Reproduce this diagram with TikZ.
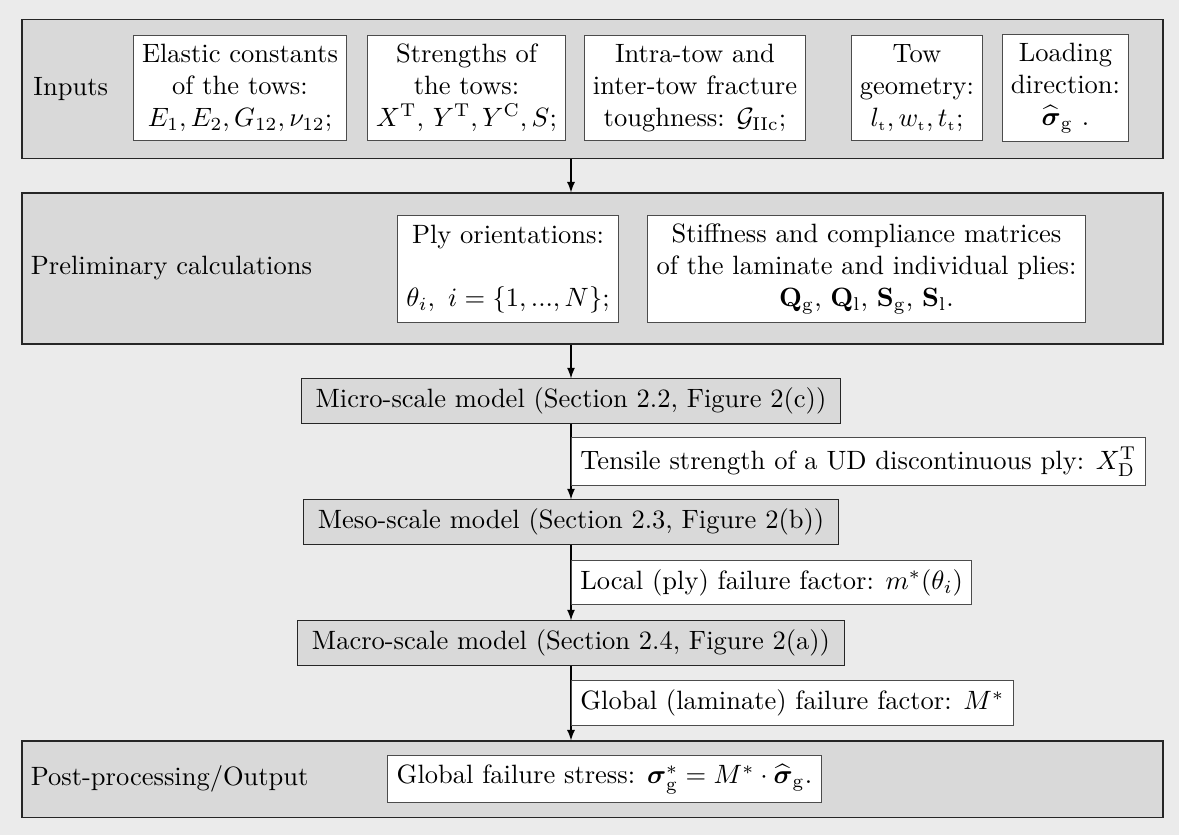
\documentclass[tikz,border=0pt]{standalone}
\usepackage{amsmath,amssymb}
\begin{document}
\begin{tikzpicture}[x=0.3774pt,y=-0.3774pt,>=latex,
  stage/.style={draw=black!85,fill=black!15,minimum width=430.6pt,inner sep=0pt},
  item/.style={draw=black!70,fill=white,align=center},
  model/.style={draw=black!85,fill=black!15,inner xsep=5.5pt},
  note/.style={draw=black!70,fill=white,anchor=west}]
\fill[black!8] (0,0) rectangle (1179,835);
% stages
\node[stage,minimum height=52.8pt] (inputs) at (592.5,89) {};
\node[stage,minimum height=57pt] (prelim) at (592.5,268.5) {};
\node[stage,minimum height=28.7pt] (post) at (592.5,779) {};
\node[anchor=west] (inlbl) at ([xshift=1pt]inputs.west) {Inputs};
\node[anchor=west] (prelbl) at (prelim.west) {Preliminary calculations};
\node[anchor=west] (postlbl) at (post.west) {Post-processing/Output};
% inputs
\node[item] (elastic) at (240,88) {Elastic constants\\of the tows:\\$E_1, E_2, G_{12}, \nu_{12}$;};
\node[item] (strength) at (466.5,88) {Strengths of\\the tows:\\$X^\mathrm{T}$, $Y^\mathrm{T}, Y^\mathrm{C}, S$;};
\node[item] (tough) at (695,88) {Intra-tow and\\inter-tow fracture\\toughness: $\mathcal{G}_\mathrm{IIc}$;};
\node[item] (geom) at (917,88) {Tow\\geometry:\\$l_{\scriptscriptstyle\mathrm{t}}, w_{\scriptscriptstyle\mathrm{t}}, t_{\scriptscriptstyle\mathrm{t}}$;};
\node[item] (load) at (1065.5,88) {Loading\\direction:\\$\widehat{\boldsymbol{\sigma}}_\mathrm{g}$ .};
% preliminary
\node[item] (plies) at (508,269) {Ply orientations:\\[12pt]$\theta_i,\ i=\{1,...,N\}$;};
\node[item] (stiff) at (866.5,269) {Stiffness and compliance matrices\\of the laminate and individual plies:\\$\mathbf{Q}_\mathrm{g}$, $\mathbf{Q}_\mathrm{l}$, $\mathbf{S}_\mathrm{g}$, $\mathbf{S}_\mathrm{l}$.};
% models
\node[model] (micro) at (571,401) {Micro-scale model (Section 2.2, Figure 2(c))};
\node[model] (meso) at (571,522) {Meso-scale model (Section 2.3, Figure 2(b))};
\node[model] (macro) at (571,643) {Macro-scale model (Section 2.4, Figure 2(a))};
\node[item] (stress) at (604.5,779) {Global failure stress: $\boldsymbol{\sigma}^*_\mathrm{g} = M^*\cdot\widehat{\boldsymbol{\sigma}}_\mathrm{g}$.};
% flow
\draw[->] (inputs.south -| micro) -- (prelim.north -| micro);
\draw[->] (prelim.south -| micro) -- (micro);
\draw[->] (micro) -- node[note] (xdt) {Tensile strength of a UD discontinuous ply: $X_\mathrm{D}^\mathrm{T}$} (meso);
\draw[->] (meso) -- node[note] (mloc) {Local (ply) failure factor: $m^*(\theta_i)$} (macro);
\draw[->] (macro) -- node[note] (mglob) {Global (laminate) failure factor: $M^*$} (post.north -| macro);
\end{tikzpicture}
\end{document}
